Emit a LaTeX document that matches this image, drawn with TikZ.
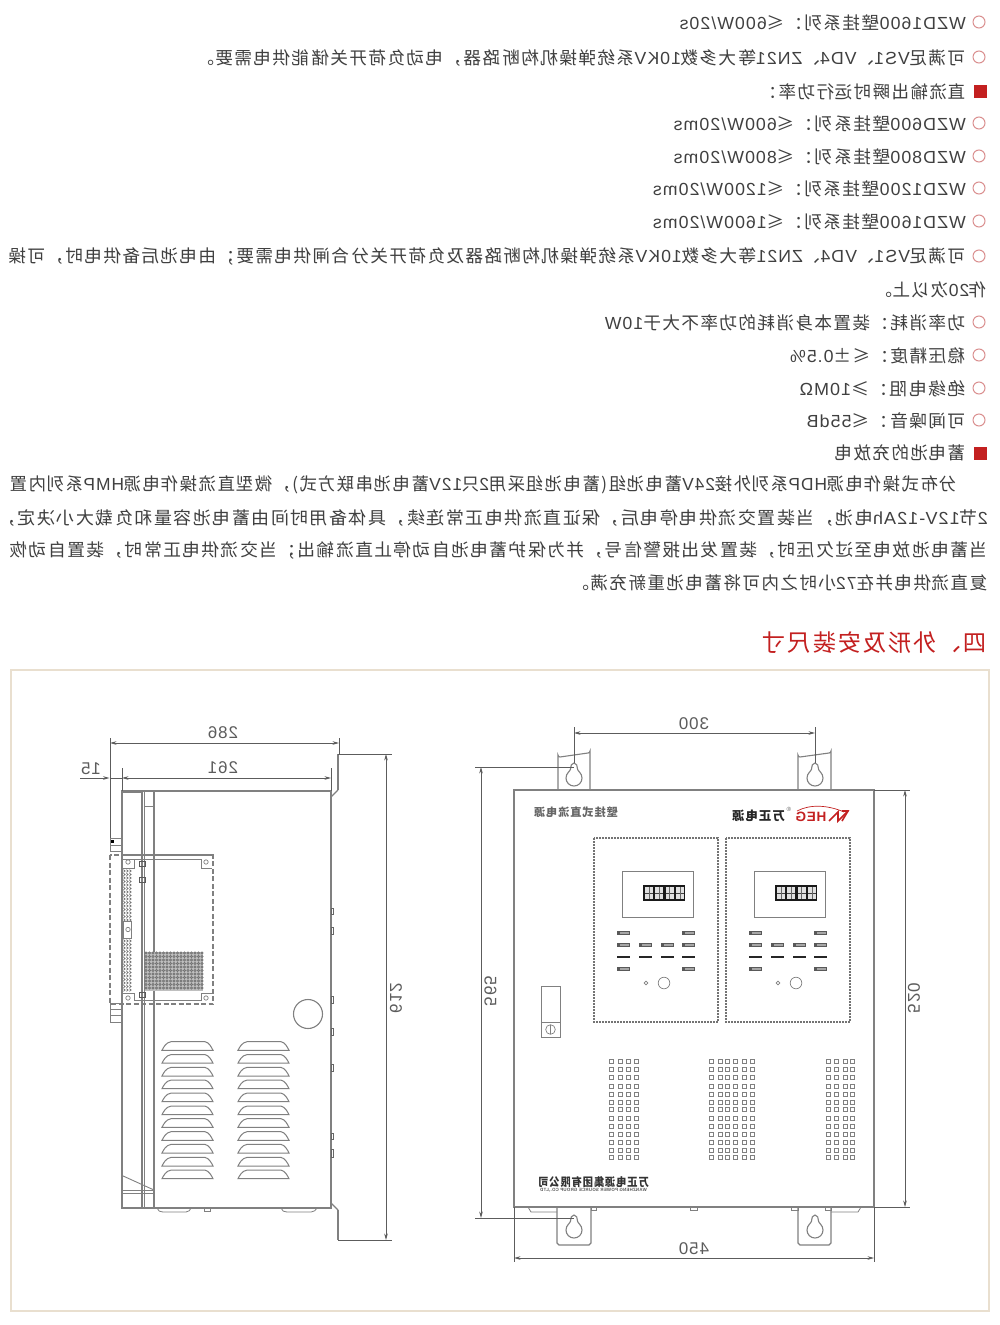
\documentclass[tikz,border=0pt]{standalone}
\usepackage{graphicx}
\usepackage{fontspec}
\usepackage{xcolor}
\setmainfont[LetterSpace=8]{Noto Sans CJK SC}
\newfontfamily\latinf[LetterSpace=6]{Liberation Sans}
\newcommand\la[1]{{\latinf #1}}
\usetikzlibrary{arrows.meta}
\definecolor{txt}{HTML}{404040}
\definecolor{redm}{HTML}{C32020}
\definecolor{pink}{HTML}{DA8F8F}
\definecolor{frame}{HTML}{E9DFCF}
\definecolor{ln}{HTML}{808080}
\definecolor{dm}{HTML}{5C5C5C}
\newcommand\mir[2][1]{\scalebox{-#1}[1]{#2}}
\newcommand\keyhole[2]{\begin{scope}[shift={(#1,#2)}]
\draw[body] (0,-15) .. controls (-2.5,-15) and (-3.5,-12) .. (-3.5,-9) .. controls (-3.5,-7) and (-8,-5) .. (-8,0) .. controls (-8,4.5) and (-4.5,8) .. (0,8) .. controls (4.5,8) and (8,4.5) .. (8,0) .. controls (8,-5) and (3.5,-7) .. (3.5,-9) .. controls (3.5,-12) and (2.5,-15) .. (0,-15) -- cycle;
\end{scope}}
\newcommand\louver[2]{\draw[body,line width=1pt] (#1,#2) .. controls (#1+1.5,#2-3) and (#1+4,#2-8) .. (#1+9,#2-8.6) -- (#1+43,#2-8.6) .. controls (#1+47,#2-8) and (#1+49.5,#2-3) .. (#1+51,#2) -- cycle;}
\newcommand\led[2]{\fill[black!65] (#1,#2-1.6) rectangle (#1+13,#2+1.6);\fill[black!35] (#1+3,#2-.8) rectangle (#1+12.4,#2+.8);}
\newcommand\panel[1]{\begin{scope}[xshift=#1pt]
\draw[dashp] (594,838) rectangle (718,1022);
\draw[body,line width=.9pt] (622,871) rectangle (693,917);
\fill[black!90] (643,885) rectangle (685,901);
\foreach \cx in {645,655.3,665.6,675.9}{\fill[black!12] (\cx,887) rectangle (\cx+8,899);\draw[black!75,line width=.8pt] (\cx,893) -- (\cx+8,893);\draw[black!60,line width=.5pt] (\cx+4,887) -- (\cx+4,899);}
\led{617}{933}\led{682}{933}
\foreach \cx in {617,639,661,682}{\led{\cx}{945}\draw[black!85,line width=1.2pt] (\cx,957) -- (\cx+13,957);}
\led{617}{969}\led{682}{969}
\draw[body,line width=.7pt] (664,983) circle (5.8);
\draw[body,line width=.6pt] (646,983) circle (1.9);
\end{scope}}
\tikzset{x=1pt,y=-1pt,
 bt/.style={anchor=east,inner sep=0pt,text=txt,font=\fontsize{17.5}{20}\selectfont},
 bul/.style={draw=pink,line width=1pt,circle,minimum size=12pt,inner sep=0pt},
 squ/.style={fill=redm,minimum size=13pt,inner sep=0pt},
 body/.style={draw=ln,line width=1.1pt},
 thk/.style={draw=ln,line width=2pt},
 dashp/.style={draw=black!55,line width=1.5pt,dash pattern=on 2pt off 1pt},
 dashm/.style={draw=ln,line width=1.4pt,dash pattern=on 5pt off 2.5pt},
 dim/.style={draw=dm,line width=.8pt},
 arr/.style={dim,{Stealth[length=6.5pt,width=3.6pt]}-{Stealth[length=6.5pt,width=3.6pt]}},
 arrr/.style={dim,-{Stealth[length=6.5pt,width=3.6pt]}},
 dlab/.style={inner sep=0pt,text=dm,font=\latinf\fontsize{17}{19}\selectfont},
}
\begin{document}
\begin{tikzpicture}
\useasboundingbox (0,0) rectangle (1000,1325);
\fill[white] (0,0) rectangle (1000,1325);
% ---- text block
\foreach \yy in {22,57,123,156,188,221,256,322,355,388,420}{\node[bul] at (979,\yy) {};}
\node[squ] (s1) at (980.5,91) {};
\node[squ] (s2) at (980.5,453) {};
\node[bt] (t1) at (966,23) {\mir[1.01]{\la{WZD1600}壁挂系列：≤\la{600W/20s}}};
\node[bt] (t2) at (966,58) {\mir[1.0106]{可满足\la{VS1}、\la{VD4}、\la{ZN21}等大多数\la{10KV}系统弹操机构断路器，电动负荷开关储能供电需要。}};
\node[bt] (t3) at (966,92) {\mir[.995]{直流输出瞬时运行功率：}};
\node[bt] (t4) at (966,124) {\mir[1.014]{\la{WZD600}壁挂系列：≤\la{600W/20ms}}};
\node[bt] (t5) at (966,157) {\mir[1.014]{\la{WZD800}壁挂系列：≤\la{800W/20ms}}};
\node[bt] (t6) at (966,189) {\mir[1.01]{\la{WZD1200}壁挂系列：≤\la{1200W/20ms}}};
\node[bt] (t7) at (966,222) {\mir[1.01]{\la{WZD1600}壁挂系列：≤\la{1600W/20ms}}};
\node[bt] (t8) at (966,257) {\mir[1.0075]{可满足\la{VS1}、\la{VD4}、\la{ZN21}等大多数\la{10KV}系统弹操机构断路器及负荷开关分合闸供电需要；由电池后备供电时，可操}};
\node[bt] (t9) at (987,290) {\mir{作\la{20}次以上。}};
\node[bt] (t10) at (966,323) {\mir[1.008]{功率消耗：装置本身消耗的功率不大于\la{10W}}};
\node[bt] (t11) at (966,356) {\mir[1.01]{稳压精度：≤±\la{0.5\%}}};
\node[bt] (t12) at (966,389) {\mir[1.024]{绝缘电阻：≥\la{10MΩ}}};
\node[bt] (t13) at (966,421) {\mir[1.019]{可闻噪音：≤\la{55dB}}};
\node[bt] (t14) at (966,453) {\mir{蓄电池的充放电}};
\node[bt] (t15) at (957,485) {\mir[.99]{分布式操作电源\la{HDP}系列外接\la{24V}蓄电池组(蓄电池组采用\la{2}只\la{12V}蓄电池串联方式)，微型直流操作电源\la{HMP}系列内置}};
\node[bt] (t16) at (988,518) {\mir[1.03]{\la{2}节\la{12V-12Ah}电池，当装置交流供电停电后，保证直流供电正常连续，具体备用时间由蓄电池容量和负载大小决定，}};
\node[bt] (t17) at (988,550) {\mir[1.016]{当蓄电池放电至过欠压时，装置发出报警信号，并为保护蓄电池自动停止直流输出；当交流供电正常时，装置自动恢}};
\node[bt] (t18) at (988,583) {\mir[1.002]{复直流供电并在\la{72}小时之内可将蓄电池重新充满。}};
\node[anchor=east,inner sep=0pt,text=redm,font=\fontsize{23.5}{26}\selectfont] (title) at (987,642.5) {\mir[.99]{四、外形及安装尺寸}};
% ---- frame
\draw[frame,line width=1.6pt] (11,670) rectangle (989,1311);
% ---- front view
\draw[body] (514,790) rectangle (874,1207);
\draw[body] (558,790) -- (558,755) arc[start angle=180,end angle=90,radius=2] -- (588,753) arc[start angle=90,end angle=0,radius=2] -- (590,790);
\draw[body] (798,790) -- (798,755) arc[start angle=180,end angle=90,radius=2] -- (829,753) arc[start angle=90,end angle=0,radius=2] -- (831,790);
\draw[body] (557,1207) -- (557,1243) -- (559,1245) -- (589,1245) -- (591,1243) -- (591,1207);
\draw[body] (798,1207) -- (798,1243) -- (800,1245) -- (829,1245) -- (831,1243) -- (831,1207);
\keyhole{574}{778}\keyhole{815}{778}\keyhole{574}{1230}\keyhole{815}{1230}
\draw[body,line width=.8pt] (528,1207) -- (531,1212) -- (557,1212);
\draw[body,line width=.8pt] (831,1212) -- (858,1212) -- (861,1207);
\foreach \a/\b in {591/596,690/697,791/798,825/831}{\draw[body,line width=.7pt] (\a,1207) rectangle (\b,1210.5);}
\node[inner sep=0pt,text=black!60,font=\fontsize{11.2}{13}\selectfont\bfseries] (lab1) at (576,812) {\mir{壁挂式直流电源}};
\node[inner sep=0pt,text=black!85,font=\fontsize{12.4}{14}\selectfont\bfseries] (lab2) at (758.5,816) {\mir{万正电源}};
\node[inner sep=0pt,text=redm,font=\latinf\bfseries\fontsize{13.5}{15}\selectfont] (lab3) at (811,817) {\mir{HEG}};
\node[inner sep=0pt,text=black!60,font=\latinf\fontsize{6}{7}\selectfont] (lab4) at (789,809) {\mir{®}};
\draw[redm,line width=1.6pt] (848,811) -- (838,821) -- (838,812) -- (829,821);
\draw[redm,line width=1.6pt] (842,811) -- (848,811) -- (842,821);
\draw[redm,line width=.7pt] (797,811) .. controls (810,804) and (828,805) .. (844,812);
\panel{0}\panel{132}
\draw[body,line width=.9pt] (541,986) rectangle (560,1037);
\draw[body,line width=.9pt] (541,1022) -- (560,1022);
\draw[body,line width=.7pt] (550.5,1029.5) circle (4.8);
\draw[body,line width=.7pt] (550.5,1025) -- (550.5,1034);
\foreach \ry in {1061.3,1069.7,1077.7,1086,1094,1102.3,1109.3,1118,1126,1134,1142,1150,1157.7}{
 \foreach \cx in {611.7,620,628.3,636.7,711.7,720,727.7,735.7,744,752.3,828.3,836.7,845,852.7}{
  \draw[black!50,line width=.8pt] (\cx-1.9,\ry-1.9) rectangle (\cx+1.9,\ry+1.9);}}
\node[inner sep=0pt,text=black!80,font=\fontsize{11.6}{13}\selectfont\bfseries] (lab5) at (593.5,1182) {\mir[.89]{万正电源集团有限公司}};
\node[inner sep=0pt,text=black!65,font=\latinf\bfseries\fontsize{4.6}{5}\selectfont] (lab6) at (593.5,1190.5) {\mir[.95]{WANZHENG POWER SOURCE GROUP CO.,LTD}};
% dims front
\coordinate (d300a) at (574,733);\coordinate (d300b) at (815,733);
\draw[arr] (d300a) -- (d300b);
\draw[dim] (574,727) -- (574,763);\draw[dim] (815,727) -- (815,763);
\node[dlab] (n300) at (694,724) {\mir{300}};
\coordinate (d565a) at (481,767);\coordinate (d565b) at (481,1218);
\draw[arr] (d565a) -- (d565b);
\draw[dim] (475,767) -- (574,767);\draw[dim] (475,1218) -- (574,1218);
\node[dlab,rotate=-90] (n565) at (490.5,991) {\mir{565}};
\coordinate (d520a) at (905,790);\coordinate (d520b) at (905,1207);
\draw[arr] (d520a) -- (d520b);
\draw[dim] (874,790) -- (910,790);\draw[dim] (874,1207.5) -- (910,1207.5);
\node[dlab,rotate=-90] (n520) at (914,998) {\mir{520}};
\coordinate (d450a) at (514,1258);\coordinate (d450b) at (874,1258);
\draw[arr] (d450a) -- (d450b);
\draw[dim] (514,1207) -- (514,1262);\draw[dim] (874,1207) -- (874,1262);
\node[dlab] (n450) at (694,1249) {\mir{450}};
% ---- side view
\draw[body] (122,791) -- (331,791) -- (331,1208) -- (122,1208) -- cycle;
\draw[thk] (122,791) -- (122,1208);\draw[thk] (153.5,791) -- (153.5,1208);
\draw[thk] (141.5,791) -- (141.5,1208);\draw[body,line width=.8pt] (144.5,791) -- (144.5,1208);
\draw[thk] (122,791.5) -- (141,791.5);
\draw[body,line width=.8pt] (144,791) rectangle (154,806);
\draw[thk] (331,797) -- (331,843);
\draw[body] (331,797) -- (338,790);\draw[thk] (338,790) -- (338,754);\draw[dim] (338,754) -- (392,754);
\draw[body] (331,1203) -- (338,1210);\draw[thk] (338,1210) -- (338,1240);\draw[dim] (338,1240) -- (392,1240);
\draw[body,line width=.8pt] (110,838) rectangle (122,851);\draw[body,line width=.8pt] (110,845) -- (122,845);
\fill[black] (111,840) rectangle (113.5,843);
\draw[body,line width=.8pt] (110,1003) rectangle (122,1022);\draw[body,line width=.8pt] (110,1009) -- (122,1009);\draw[body,line width=.8pt] (110,1015) -- (122,1015);
\draw[dashm] (110,855) rectangle (213,1004);
\draw[thk,line width=1.4pt] (122,855) -- (213,855);
\draw[body,line width=.8pt] (123,859) -- (134,859) -- (134,868) -- (123,868);
\draw[body,line width=.8pt] (134,859) -- (201,859) -- (201,868) -- (212,868);
\draw[body,line width=.8pt] (123,993) -- (134,993) -- (134,1000) -- (201,1000) -- (201,993) -- (212,993);
\foreach \hx/\hy in {128/862,206/862,128/998,206/998}{\draw[body,line width=.7pt] (\hx,\hy) circle (2.2);}
\foreach \ry in {871,874.5,...,990}{\foreach \cx in {123.5,126.5,129.5}{\draw[black!60,line width=.7pt] (\cx,\ry-1.3) -- (\cx+1.6,\ry) -- (\cx,\ry+1.3);}}
\draw[body,fill=white,line width=.8pt] (123,921) rectangle (131.5,938);
\draw[body,line width=.7pt] (128,929.5) circle (2.2);
\fill[black!25] (145,952) rectangle (203,990.5);
\foreach \cx in {146,149.5,...,202}{\foreach \ry in {953,956.5,...,990}{\draw[black!55,line width=.7pt] (\cx,\ry) circle (1.1);}}
\foreach \ry in {864,880,995}{\draw[black!65,line width=1pt] (139,\ry-2.5) rectangle (145,\ry+2.5);}
\draw[body] (308,1014) circle (14.5);
\foreach \ry in {1050.3,1063.2,1076,1088.7,1101.7,1114.7,1127.3,1140.3,1153,1166,1178.7}{\louver{162}{\ry}\louver{238}{\ry}}
\draw[body,line width=.9pt] (122.5,1175.7) -- (154,1190);
\draw[body,line width=.9pt] (122,1190.7) -- (154,1190.7);
\draw[body,line width=.9pt] (122,1193.5) -- (154,1193.5);
\draw[body,line width=.8pt] (157,1208) .. controls (158,1211) and (160,1212) .. (163,1212) -- (186,1212) .. controls (189,1212) and (190,1210) .. (191,1208);
\draw[body,line width=.8pt] (281,1208) .. controls (282,1211) and (284,1212) .. (287,1212) -- (311,1212) .. controls (314,1212) and (316,1210) .. (317,1208);
\draw[body,line width=.7pt] (204,1207.5) rectangle (210,1211);
\foreach \a/\b in {908/914,927/934,996/1003,1028/1035,1064/1071,1133/1139,1149/1157}{\draw[black!60,line width=.8pt] (331,\a) rectangle (333,\b);}
% dims side
\coordinate (d286a) at (110,743);\coordinate (d286b) at (339,743);
\draw[arr] (d286a) -- (d286b);
\draw[dim] (110,738) -- (110,838);\draw[dim] (339,738) -- (339,754);
\node[dlab] (n286) at (223,733) {\mir{286}};
\coordinate (d261a) at (122,778);\coordinate (d261b) at (331,778);
\draw[arr] (d261a) -- (d261b);
\draw[dim] (122,768) -- (122,791);\draw[dim] (331,768) -- (331,791);
\node[dlab] (n261) at (223,768) {\mir{261}};
\coordinate (d15a) at (80,778);\coordinate (d15b) at (109.5,778);
\draw[arrr] (d15a) -- (d15b);\draw[dim] (110,778) -- (122,778);
\node[dlab] (n15) at (91,769) {\mir{15}};
\coordinate (d612a) at (386,754);\coordinate (d612b) at (386,1240);
\draw[arr] (d612a) -- (d612b);
\node[dlab,rotate=-90] (n612) at (396,998) {\mir{612}};
\end{tikzpicture}
\end{document}
